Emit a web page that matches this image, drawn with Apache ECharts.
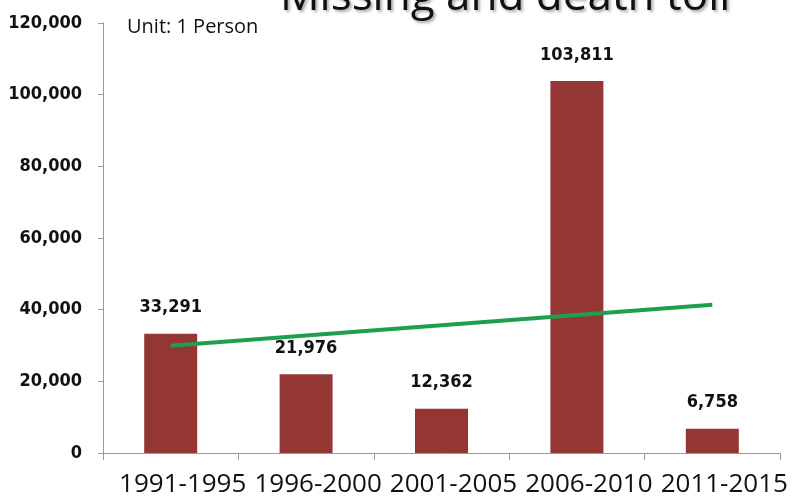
<!DOCTYPE html>
<html>
<head>
<meta charset="utf-8">
<script src="https://cdn.jsdelivr.net/npm/echarts@6/dist/echarts.min.js"></script>
<style>
  html, body { margin: 0; padding: 0; background: #fff; }
  #chart { width: 798px; height: 498px; }
</style>
</head>
<body>
<div id="chart"></div>
<script>
// Five-year periods and the number of missing and dead people in each
var periods = ['1991-1995', '1996-2000', '2001-2005', '2006-2010', '2011-2015'];
var tolls = [33291, 21976, 12362, 103811, 6758];
// Linear trend, first and last period
var trendEnds = [29900, 41400];
var yTicks = [0, 20000, 40000, 60000, 80000, 100000, 120000];

var numFont = '"DejaVu Sans Condensed", "Liberation Sans Narrow", "DejaVu Sans", sans-serif';
var textFont = '"Open Sans", "Noto Sans", sans-serif';

var trendData = periods.map(function (p, i) {
  if (i === 0) return trendEnds[0];
  if (i === periods.length - 1) return trendEnds[1];
  return null;
});

var chart = echarts.init(document.getElementById('chart'), null, { renderer: 'canvas' });
chart.setOption({
  animation: false,
  backgroundColor: '#ffffff',
  grid: { left: 103, right: 18, top: 23, bottom: 45, containLabel: false },
  graphic: [
    {
      type: 'text',
      left: 280,
      top: -25,
      style: {
        text: 'Missing and death toll',
        font: '44px ' + textFont,
        fill: '#111',
        textShadowColor: 'rgba(0,0,0,0.35)',
        textShadowBlur: 3,
        textShadowOffsetX: 2,
        textShadowOffsetY: 2
      }
    },
    {
      type: 'text',
      left: 127,
      top: 17,
      style: {
        text: 'Unit: 1 Person',
        font: '20px ' + textFont,
        fill: '#111'
      }
    }
  ],
  xAxis: {
    type: 'category',
    data: periods,
    axisLine: { lineStyle: { color: '#9a9a9a', width: 1 } },
    axisTick: { show: true, alignWithLabel: false, length: 7, lineStyle: { color: '#9a9a9a' } },
    axisLabel: {
      color: '#111',
      fontFamily: textFont,
      fontSize: 26,
      margin: 19,
      padding: [0, 0, 0, 24],
      interval: 0
    },
    splitLine: { show: false }
  },
  yAxis: {
    type: 'value',
    min: yTicks[0],
    max: yTicks[yTicks.length - 1],
    interval: yTicks[1] - yTicks[0],
    axisLine: { show: true, lineStyle: { color: '#9a9a9a', width: 1 } },
    axisTick: { show: true, length: 5, lineStyle: { color: '#9a9a9a' } },
    axisLabel: {
      color: '#111',
      fontFamily: numFont,
      fontWeight: 'bold',
      fontSize: 18,
      margin: 21,
      formatter: function (v) { return v.toLocaleString('en-US'); }
    },
    splitLine: { show: false }
  },
  series: [
    {
      type: 'bar',
      data: tolls,
      barWidth: 53,
      itemStyle: { color: '#943634' },
      label: {
        show: true,
        position: 'top',
        distance: 17,
        color: '#111',
        fontFamily: numFont,
        fontWeight: 'bold',
        fontSize: 18,
        formatter: function (p) { return p.value.toLocaleString('en-US'); }
      },
      z: 2
    },
    {
      type: 'line',
      data: trendData,
      connectNulls: true,
      symbol: 'none',
      lineStyle: { color: '#1f9e4c', width: 4 },
      z: 3
    }
  ]
});
</script>
</body>
</html>
